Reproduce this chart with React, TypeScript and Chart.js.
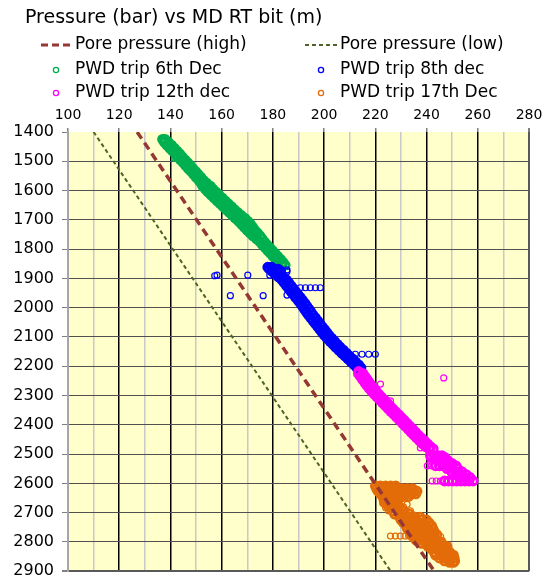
import { useEffect, useRef } from "react";
import { Chart, registerables } from "chart.js";

Chart.register(...registerables);

const chartTitle = "Pressure (bar) vs MD RT bit (m)";
const seriesNames = [
  "Pore pressure (high)",
  "Pore pressure (low)",
  "PWD trip 6th Dec",
  "PWD trip 8th dec",
  "PWD trip 12th dec",
  "PWD trip 17th Dec",
];
const seriesColors = ["#953735", "#4F6228", "#00B050", "#0000FF", "#FF00FF", "#E36C09"];

const xMin = 100;
const xMax = 280;
const yMin = 1400;
const yMax = 2900;

// [pressure (bar), MD (m)]
const porePressureHigh: [number, number][] = [
  [127, 1400],
  [243, 2900],
];
const porePressureLow: [number, number][] = [
  [110, 1400],
  [226, 2900],
];

// Dense trails: [MD (m), pressures (bar) read at that depth]
const trip6DecBand: [number, number[]][] = [
  [1425, [136.9, 137.9]], [1435, [137.6, 139.2]], [1445, [138.6, 140.4]], [1455, [139.7, 141.5]],
  [1465, [140.8, 142.6]], [1475, [141.9, 143.7]], [1485, [142.8, 144.6]],
  [1495, [143.9, 145.7]], [1505, [145.0, 146.8]], [1515, [146.0, 147.8]], [1525, [147.0, 148.8]],
  [1535, [148.1, 149.9]], [1545, [149.1, 150.9]], [1555, [150.1, 151.9]], [1565, [151.1, 152.9]],
  [1575, [152.0, 153.1, 154.2]], [1585, [152.6, 154.1, 155.6]], [1595, [153.6, 155.1, 156.6]],
  [1605, [154.6, 156.2, 157.8]], [1615, [155.8, 157.4, 159.0]], [1625, [157.0, 158.6, 160.2]],
  [1635, [158.2, 159.8, 161.4]], [1645, [159.4, 161.0, 162.6]], [1655, [160.6, 162.2, 163.8]],
  [1665, [161.8, 163.4, 165.0]], [1675, [163.0, 164.6, 166.3]], [1685, [164.2, 165.9, 167.7]],
  [1695, [165.4, 167.2, 169.1]], [1705, [166.6, 168.4, 170.3]], [1715, [167.7, 169.5, 171.3]],
  [1725, [168.8, 170.4, 172.1]], [1735, [169.9, 171.4, 172.9]], [1745, [171.0, 172.5, 174.0]],
  [1755, [172.2, 173.6, 175.0]], [1765, [173.6, 175.8]],
  [1775, [174.9, 176.7]], [1785, [175.9, 177.7]], [1795, [177.0, 178.8]], [1805, [178.0, 179.8]],
  [1815, [179.1, 180.9]], [1825, [180.1, 181.9]], [1835, [181.2, 183.0]], [1845, [182.3, 184.0]],
  [1855, [183.5, 184.8]],
];
// Isolated readings: [pressure (bar), MD (m)]
const trip6DecLoose: [number, number][] = [[141.7, 1490]];

const trip8DecBand: [number, number[]][] = [
  [1862, [178.0, 179.5]], [1868, [178.6, 180.4, 182.0]], [1875, [179.6, 181.4, 183.0]],
  [1885, [180.8, 182.6]], [1895, [182.2, 184.0]], [1905, [183.5, 185.3]], [1915, [184.4, 186.2]],
  [1925, [185.3, 187.1]], [1935, [186.2, 188.0]], [1945, [187.1, 188.9]],
  [1955, [188.0, 189.8]], [1965, [188.9, 190.7]],
  [1975, [189.8, 191.6]], [1985, [190.7, 192.5]], [1995, [191.5, 193.3]], [2005, [192.3, 194.1]],
  [2015, [193.1, 194.9]], [2025, [193.9, 195.7]], [2035, [194.8, 196.6]], [2045, [195.7, 197.5]],
  [2055, [196.6, 198.4]], [2065, [197.5, 199.3]], [2075, [198.4, 200.2]], [2085, [199.3, 201.1]],
  [2095, [200.2, 202.0]], [2105, [201.2, 203.0]], [2115, [202.3, 204.1]], [2125, [203.4, 205.2]],
  [2135, [204.5, 206.3]], [2145, [205.7, 207.5]], [2155, [206.9, 208.7]],
  [2165, [208.1, 209.9]], [2175, [209.3, 211.1]],
  [2185, [210.5, 212.3]], [2195, [211.7, 213.5]], [2205, [212.8, 214.4]], [2212, [214.0]],
];
const trip8DecLoose: [number, number][] = [
  [157.3, 1891], [158.2, 1889], [170.2, 1889], [178.8, 1889], [185.5, 1871], [183.6, 1877],
  [185.5, 1877], [163.4, 1959], [176.2, 1959], [185.5, 1957],
  [190.7, 1932], [192.7, 1932], [194.6, 1932], [196.6, 1932], [198.5, 1932],
  [212.2, 2159], [214.8, 2159], [217.4, 2159], [220.0, 2159],
];

const trip12DecBand: [number, number[]][] = [
  [2218, [213.5]], [2225, [213.4, 215.2]], [2235, [214.2, 216.0]],
  [2245, [215.0, 216.8]], [2255, [215.8, 217.6]], [2265, [216.6, 218.4]],
  [2275, [217.5, 219.3]], [2285, [218.5, 220.3]], [2295, [219.5, 221.3]], [2305, [220.6, 222.4]],
  [2315, [221.7, 223.5]], [2325, [222.8, 224.6]], [2335, [223.9, 225.7]],
  [2345, [225.0, 226.8]], [2355, [226.1, 227.9]], [2365, [227.3, 229.1]], [2375, [228.4, 230.2]],
  [2385, [229.5, 231.3]], [2395, [230.6, 232.4]], [2405, [231.7, 233.5]], [2415, [232.8, 234.6]],
  [2425, [233.9, 235.7]], [2435, [235.0, 236.8]], [2445, [236.1, 238.0]], [2455, [237.3, 239.2]],
  [2465, [238.5, 240.4]], [2475, [239.7, 241.6]], [2482, [241.0, 242.6]],
  [2505, [241.5, 243.0, 244.5, 246.0]], [2512, [241.8, 243.8, 245.6, 247.2]],
  [2522, [244.5, 246.5, 248.3]], [2532, [246.0, 248.0, 250.0]],
  [2540, [243.5, 245.1, 246.7, 248.3, 249.9, 251.5]],
  [2550, [248.0, 250.0, 252.2]], [2560, [249.8, 251.8, 253.8]], [2570, [251.5, 253.5, 255.5]],
  [2580, [253.0, 255.0, 257.0]],
  [2592, [247.0, 248.6, 250.2, 251.8, 253.4, 255.0, 256.6, 258.2]],
];
const trip12DecLoose: [number, number][] = [
  [246.7, 2240], [222.0, 2261], [225.9, 2318], [237.6, 2479],
  [240.3, 2540], [241.9, 2540], [242.2, 2592], [243.8, 2592], [245.4, 2592],
];

const trip17DecBand: [number, number[]][] = [
  [2609, [220.0, 222.0, 224.0, 226.0, 228.0]],
  [2618, [220.5, 222.5, 224.5, 226.5, 228.5, 230.5, 232.5, 234.5]],
  [2627, [221.0, 223.0, 225.0, 227.0, 229.0, 231.0, 233.0, 235.0, 236.3]],
  [2636, [222.0, 224.0, 226.0, 228.0, 230.0, 232.0, 234.0, 235.8]],
  [2645, [223.0, 225.0, 227.0, 229.0, 231.0, 233.0]],
  [2655, [223.3, 225.2, 227.2, 229.0]],
  [2665, [223.5, 225.5, 227.5, 228.5]],
  [2675, [224.8, 226.8, 228.6]],
  [2685, [226.0, 228.0, 230.0]],
  [2695, [227.0, 229.0, 231.0]],
  [2705, [227.5, 229.5, 231.5, 233.5]],
  [2715, [229.5, 231.5, 233.5, 235.5, 237.5]],
  [2725, [230.0, 232.0, 234.0, 236.0, 238.0, 240.0]],
  [2735, [231.0, 233.0, 235.0, 237.0, 239.0, 241.0]],
  [2745, [232.0, 234.0, 236.0, 238.0, 240.0, 242.0]],
  [2755, [232.5, 234.5, 236.5, 238.5, 240.5, 242.5]],
  [2765, [233.5, 235.5, 237.5, 239.5, 241.5, 243.0]],
  [2775, [234.0, 236.0, 238.0, 240.0, 242.0, 244.0]],
  [2785, [235.0, 237.0, 239.0, 241.0, 243.0]],
  [2795, [236.0, 238.0, 240.0, 242.0, 244.0]],
  [2805, [238.0, 240.0, 242.0, 244.0, 246.0]],
  [2815, [240.5, 242.5, 244.5, 246.5, 248.0]],
  [2825, [242.0, 244.0, 246.0, 248.0]],
  [2835, [243.0, 245.0, 247.0, 249.0]],
  [2845, [243.5, 245.5, 247.5, 249.5, 250.5]],
  [2855, [245.0, 247.0, 249.0, 250.8]],
  [2865, [247.0, 249.0, 251.0]],
  [2870, [249.0, 250.5]],
];
const trip17DecLoose: [number, number][] = [
  [232.4, 2672], [231.0, 2680], [224.0, 2683], [225.2, 2694], [233.7, 2694],
  [225.9, 2780], [227.8, 2780], [229.7, 2780], [231.6, 2780], [233.0, 2780],
  [243.5, 2774], [245.5, 2782], [244.5, 2790], [246.1, 2795],
];

const FONT = "'DejaVu Sans', sans-serif";

function bandPoints(rows: [number, number[]][]) {
  const pts: { x: number; y: number }[] = [];
  rows.forEach(([d, ps]) => ps.forEach((p) => pts.push({ x: p, y: d })));
  return pts;
}
function pairPoints(rows: [number, number][]) {
  return rows.map(([p, d]) => ({ x: p, y: d }));
}

const plotBackground = {
  id: "plotBackground",
  beforeDraw(chart: any) {
    const { ctx, chartArea } = chart;
    ctx.save();
    ctx.fillStyle = "#FFFFCC";
    ctx.fillRect(chartArea.left, chartArea.top, chartArea.right - chartArea.left, chartArea.bottom - chartArea.top);
    ctx.restore();
  },
};

const customLegend = {
  id: "customLegend",
  afterDraw(chart: any) {
    const ctx = chart.ctx as CanvasRenderingContext2D;
    ctx.save();
    ctx.fillStyle = "#000";
    ctx.textBaseline = "middle";
    ctx.textAlign = "left";
    ctx.font = `19px ${FONT}`;
    ctx.fillText(chartTitle, 25, 18);

    ctx.font = `17px ${FONT}`;
    const colX = [75, 340];
    const rowY = [45, 70, 93];
    ctx.lineCap = "butt";
    ctx.strokeStyle = seriesColors[0];
    ctx.lineWidth = 3;
    ctx.setLineDash([7, 4]);
    ctx.beginPath();
    ctx.moveTo(41, rowY[0]);
    ctx.lineTo(74, rowY[0]);
    ctx.stroke();
    ctx.strokeStyle = seriesColors[1];
    ctx.lineWidth = 2;
    ctx.setLineDash([4, 3]);
    ctx.beginPath();
    ctx.moveTo(305, rowY[0]);
    ctx.lineTo(339, rowY[0]);
    ctx.stroke();
    ctx.setLineDash([]);
    ctx.fillText(seriesNames[0], colX[0], rowY[0]);
    ctx.fillText(seriesNames[1], colX[1], rowY[0]);
    const markerX = [56, 321];
    for (let i = 2; i < 6; i++) {
      const col = i % 2;
      const row = i < 4 ? 1 : 2;
      ctx.strokeStyle = seriesColors[i];
      ctx.lineWidth = 1.3;
      ctx.beginPath();
      ctx.arc(markerX[col], rowY[row], 2.6, 0, Math.PI * 2);
      ctx.stroke();
      ctx.fillStyle = "#000";
      ctx.fillText(seriesNames[i], colX[col], rowY[row]);
    }
    ctx.restore();
  },
};

export default function App() {
  const canvasRef = useRef<HTMLCanvasElement | null>(null);

  useEffect(() => {
    document.body.style.margin = "0";
    const canvas = canvasRef.current;
    if (!canvas) return;

    const band = (i: number, rows: [number, number[]][]) => ({
      label: seriesNames[i],
      data: bandPoints(rows),
      borderColor: seriesColors[i],
      backgroundColor: "rgba(0,0,0,0)",
      pointRadius: 4,
      pointHoverRadius: 4,
      pointBorderWidth: 2.8,
      showLine: false,
    });
    const loose = (i: number, rows: [number, number][]) => ({
      label: seriesNames[i],
      data: pairPoints(rows),
      borderColor: seriesColors[i],
      backgroundColor: "rgba(0,0,0,0)",
      pointRadius: 3,
      pointHoverRadius: 3,
      pointBorderWidth: 1.2,
      showLine: false,
    });

    const chart = new Chart(canvas, {
      type: "scatter",
      data: {
        datasets: [
          {
            label: seriesNames[0],
            data: pairPoints(porePressureHigh),
            borderColor: seriesColors[0],
            borderWidth: 3.5,
            borderDash: [8, 5],
            pointRadius: 0,
            showLine: true,
            fill: false,
          } as any,
          {
            label: seriesNames[1],
            data: pairPoints(porePressureLow),
            borderColor: seriesColors[1],
            borderWidth: 2,
            borderDash: [4, 3],
            pointRadius: 0,
            showLine: true,
            fill: false,
          } as any,
          band(5, trip17DecBand),
          loose(5, trip17DecLoose),
          band(4, trip12DecBand),
          loose(4, trip12DecLoose),
          band(3, trip8DecBand),
          loose(3, trip8DecLoose),
          band(2, trip6DecBand),
          loose(2, trip6DecLoose),
        ],
      },
      options: {
        animation: false,
        responsive: true,
        maintainAspectRatio: false,
        events: [],
        layout: { padding: { left: 0, top: 0, right: 14, bottom: 5 } },
        plugins: {
          legend: { display: false },
          title: { display: false },
          tooltip: { enabled: false },
        },
        scales: {
          x: {
            type: "linear",
            position: "top",
            min: xMin,
            max: xMax,
            afterFit(scale: any) {
              scale.height = 132;
              scale.paddingLeft = 0;
              scale.paddingRight = 0;
            },
            ticks: {
              stepSize: 10,
              autoSkip: false,
              maxRotation: 0,
              padding: 4,
              color: "#000",
              font: { family: "'DejaVu Sans', sans-serif", size: 14 },
              callback: (v: any) => (Math.round(Number(v)) % 20 === 0 ? String(v) : ""),
            },
            grid: {
              drawOnChartArea: true,
              tickLength: 4,
              lineWidth: (c: any) => {
                const v = c.tick ? Math.round(c.tick.value) : 0;
                if (v === xMax) return 2;
                return 1.5;
              },
              color: (c: any) => {
                const v = c.tick ? Math.round(c.tick.value) : 0;
                if (v === xMin) return "#A6A6A6";
                if (v === xMax) return "#595959";
                return v % 20 === 0 ? "#000000" : "#C8C8C8";
              },
              tickColor: (c: any) => {
                const v = c.tick ? Math.round(c.tick.value) : 0;
                return v % 20 === 0 ? "#808080" : "rgba(0,0,0,0)";
              },
            },
            border: { display: false },
          },
          y: {
            type: "linear",
            reverse: true,
            min: yMin,
            max: yMax,
            afterFit(scale: any) {
              scale.width = 68;
              scale.paddingTop = 0;
              scale.paddingBottom = 0;
            },
            ticks: {
              stepSize: 100,
              autoSkip: false,
              padding: 8,
              color: "#000",
              font: { family: "'DejaVu Sans', sans-serif", size: 16 },
              callback: (v: any) => String(v),
            },
            grid: {
              tickLength: 6,
              lineWidth: (c: any) => (c.tick && c.tick.value === yMax ? 2 : 1),
              color: (c: any) => {
                const v = c.tick ? c.tick.value : 0;
                if (v === yMin) return "rgba(0,0,0,0)";
                if (v === yMax) return "#595959";
                return "#505050";
              },
              tickColor: "#808080",
            },
            border: { display: true, color: "#A6A6A6", width: 2 },
          },
        },
      },
      plugins: [plotBackground, customLegend],
    });

    return () => chart.destroy();
  }, []);

  return (
    <div style={{ position: "relative", width: 543, height: 578 }}>
      <canvas ref={canvasRef} />
    </div>
  );
}
